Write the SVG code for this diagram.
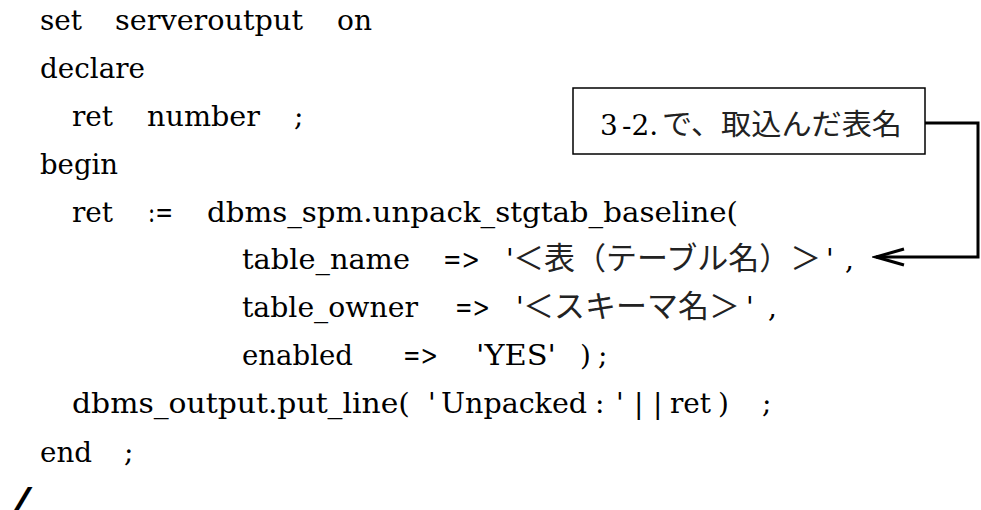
<svg xmlns="http://www.w3.org/2000/svg" width="981" height="510" viewBox="0 0 981 510">
  <defs>
    <style>
      .code { font-family: "DejaVu Serif", "Liberation Serif", "Noto Sans CJK JP", serif; font-size: 28px; fill: #000; }
      .jp { font-family: "Noto Sans CJK JP", sans-serif; font-size: 31px; fill: #222; }
      .jpnote { font-family: "Noto Sans CJK JP", sans-serif; font-size: 29px; fill: #222; }
      .note { font-family: "DejaVu Serif", "Noto Sans CJK JP", serif; font-size: 28px; fill: #000; }
      .box { fill: #fff; stroke: #000; stroke-width: 1.5; }
      .link { fill: none; stroke: #000; stroke-width: 3; }
      .slash { font-family: "Liberation Sans", sans-serif; font-weight: bold; font-size: 40px; fill: #000; }
    </style>
    <marker id="openArrow" viewBox="-32 -12 36 24" markerWidth="36" markerHeight="24" refX="0" refY="0" markerUnits="userSpaceOnUse" orient="auto">
      <path d="M-28,-8 L0,0 L-28,8" fill="none" stroke="#000" stroke-width="3"/>
    </marker>
  </defs>

  <rect width="981" height="510" fill="#fff"/>

  <!-- PL/SQL source listing -->
  <g id="code">
    <text class="code" y="30"><tspan x="40" textLength="42" lengthAdjust="spacingAndGlyphs">set</tspan><tspan x="115" textLength="188" lengthAdjust="spacingAndGlyphs">serveroutput</tspan><tspan x="337" textLength="35" lengthAdjust="spacingAndGlyphs">on</tspan></text>
    <text class="code" y="78"><tspan x="40" textLength="105" lengthAdjust="spacingAndGlyphs">declare</tspan></text>
    <text class="code" y="126"><tspan x="72" textLength="41" lengthAdjust="spacingAndGlyphs">ret</tspan><tspan x="147" textLength="113" lengthAdjust="spacingAndGlyphs">number</tspan><tspan x="294">;</tspan></text>
    <text class="code" y="174"><tspan x="40" textLength="78" lengthAdjust="spacingAndGlyphs">begin</tspan></text>
    <text class="code" y="222"><tspan x="72" textLength="41" lengthAdjust="spacingAndGlyphs">ret</tspan><tspan x="148" textLength="25" lengthAdjust="spacingAndGlyphs">:=</tspan><tspan x="207" textLength="531" lengthAdjust="spacingAndGlyphs">dbms_spm.unpack_stgtab_baseline(</tspan></text>
    <text class="code" y="269"><tspan x="242" textLength="168" lengthAdjust="spacingAndGlyphs">table_name</tspan><tspan x="443" textLength="37" lengthAdjust="spacingAndGlyphs">=&gt;</tspan><tspan x="506">'</tspan><tspan class="jp" x="513">＜表（テーブル名）＞</tspan><tspan x="826">'</tspan><tspan x="845">,</tspan></text>
    <text class="code" y="317"><tspan x="242" textLength="176" lengthAdjust="spacingAndGlyphs">table_owner</tspan><tspan x="455" textLength="35" lengthAdjust="spacingAndGlyphs">=&gt;</tspan><tspan x="516">'</tspan><tspan class="jp" x="523">＜スキーマ名＞</tspan><tspan x="746">'</tspan><tspan x="768">,</tspan></text>
    <text class="code" y="365"><tspan x="242" textLength="111" lengthAdjust="spacingAndGlyphs">enabled</tspan><tspan x="403" textLength="35" lengthAdjust="spacingAndGlyphs">=&gt;</tspan><tspan x="476" textLength="80" lengthAdjust="spacingAndGlyphs">'YES'</tspan><tspan x="580">)</tspan><tspan x="598">;</tspan></text>
    <text class="code" y="413"><tspan x="72" textLength="338" lengthAdjust="spacingAndGlyphs">dbms_output.put_line(</tspan><tspan x="428">'</tspan><tspan x="441" textLength="146" lengthAdjust="spacingAndGlyphs">Unpacked</tspan><tspan x="595">:</tspan><tspan x="616">'</tspan><tspan x="634">|</tspan><tspan x="653">|</tspan><tspan x="670" textLength="41" lengthAdjust="spacingAndGlyphs">ret</tspan><tspan x="718">)</tspan><tspan x="762">;</tspan></text>
    <text class="code" y="462"><tspan x="40" textLength="52" lengthAdjust="spacingAndGlyphs">end</tspan><tspan x="124">;</tspan></text>
    <text class="slash" transform="translate(10,516) skewX(-22)">/</text>
  </g>

  <!-- callout note -->
  <g id="note">
    <rect class="box" x="573" y="88" width="352" height="66"/>
    <text class="note" y="135"><tspan x="600">3</tspan><tspan x="622">-2.</tspan><tspan class="jpnote" x="662" textLength="240" lengthAdjust="spacingAndGlyphs">で、取込んだ表名</tspan></text>
  </g>

  <!-- connector from the note to the table_name argument -->
  <g id="connectors">
    <path class="link" d="M925,123 H978 V257 H876" marker-end="url(#openArrow)"/>
  </g>
</svg>
